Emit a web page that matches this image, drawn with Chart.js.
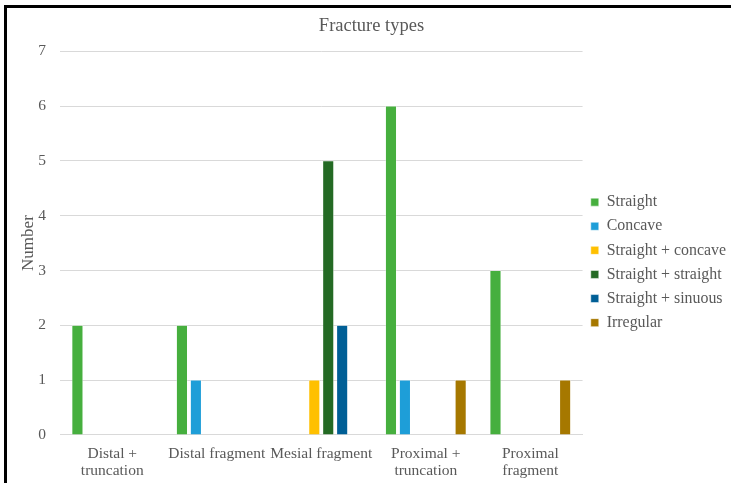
<!DOCTYPE html>
<html>
<head>
<meta charset="utf-8">
<script src="https://cdn.jsdelivr.net/npm/chart.js@4/dist/chart.umd.min.js"></script>
<style>
  html, body { margin: 0; padding: 0; background: #fff; }
  #frame {
    position: absolute; left: 4px; top: 5px;
    width: 724px; height: 475px;
    border-left: 3px solid #000; border-top: 3px solid #000;
  }
  canvas { display: block; }
</style>
</head>
<body>
<div id="frame"><canvas id="chart" width="724" height="475"></canvas></div>
<script>
// categories and counts per fracture type
const categories = [["Distal +", "truncation"], "Distal fragment", "Mesial fragment", ["Proximal +", "truncation"], ["Proximal", "fragment"]];
const straight          = [2, 2, 0, 6, 3];
const concave           = [0, 1, 0, 1, 0];
const straightConcave   = [0, 0, 1, 0, 0];
const straightStraight  = [0, 0, 5, 0, 0];
const straightSinuous   = [0, 0, 2, 0, 0];
const irregular         = [0, 0, 0, 1, 1];
const yTicks = [0, 1, 2, 3, 4, 5, 6, 7];

const font = "'Liberation Serif', 'DejaVu Serif', serif";
const grey = "#595959";

function series(label, data, color) {
    return {
        label: label,
        data: data,
        backgroundColor: color,
        borderColor: "#ffffff",
        borderWidth: 0.5,
        categoryPercentage: 0.8,
        barPercentage: 0.8
    };
}

const ctx = document.getElementById("chart").getContext("2d");
new Chart(ctx, {
    type: "bar",
    data: {
        labels: categories,
        datasets: [
            series("Straight", straight, "#46af3e"),
            series("Concave", concave, "#1e9ed8"),
            series("Straight + concave", straightConcave, "#ffc000"),
            series("Straight + straight", straightStraight, "#246a24"),
            series("Straight + sinuous", straightSinuous, "#005f96"),
            series("Irregular", irregular, "#a67800")
        ]
    },
    options: {
        responsive: false,
        animation: false,
        layout: { padding: { top: 3, right: -5, bottom: 2, left: 0 } },
        plugins: {
            title: {
                display: true,
                text: "Fracture types",
                color: grey,
                font: { family: font, size: 18.5, weight: "normal" },
                padding: { top: 4, bottom: 14 }
            },
            legend: {
                position: "right",
                align: "center",
                title: {
                    // blank title, only pushes the entries down a little
                    display: true,
                    text: " ",
                    font: { size: 14 },
                    padding: { top: 16, bottom: 0 }
                },
                labels: {
                    color: grey,
                    boxWidth: 8,
                    boxHeight: 8,
                    padding: 8.2,
                    font: { family: font, size: 15.9 }
                }
            },
            tooltip: { enabled: false }
        },
        scales: {
            x: {
                grid: { display: false },
                border: { color: "#d9d9d9" },
                ticks: {
                    color: grey,
                    maxRotation: 0,
                    autoSkip: false,
                    font: { family: font, size: 15.5, lineHeight: 1.1 },
                    padding: 2
                }
            },
            y: {
                min: 0,
                max: 7,
                afterBuildTicks: function (axis) {
                    axis.ticks = yTicks.map(v => ({ value: v }));
                },
                afterFit: function (axis) {
                    axis.width = 53;
                },
                grid: { color: "#d9d9d9", drawTicks: false },
                border: { display: false },
                ticks: {
                    color: grey,
                    font: { family: font, size: 15.5 },
                    padding: 14
                },
                title: {
                    display: true,
                    text: "Number",
                    color: grey,
                    font: { family: font, size: 17 },
                    padding: { top: 11, bottom: 0 }
                }
            }
        }
    }
});
</script>
</body>
</html>
